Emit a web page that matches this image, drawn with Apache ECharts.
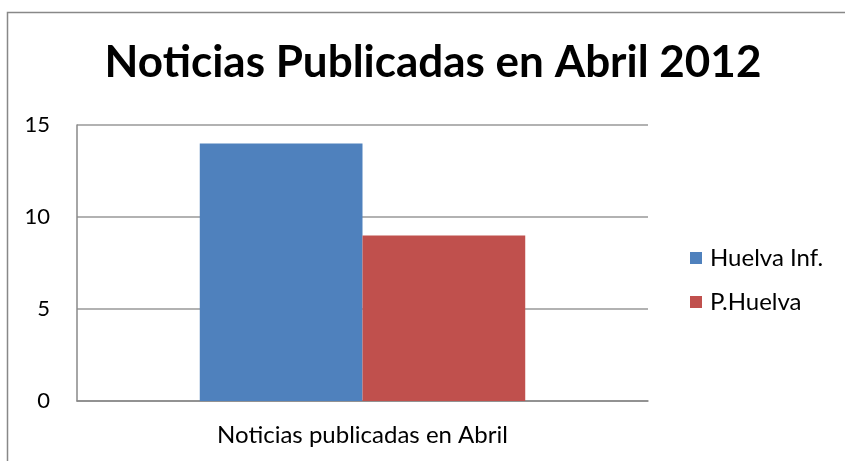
<!DOCTYPE html>
<html>
<head>
<meta charset="utf-8">
<script src="https://cdn.jsdelivr.net/npm/echarts@6/dist/echarts.min.js"></script>
<style>
  html, body { margin: 0; padding: 0; background: #fff; }
  #main { width: 845px; height: 461px; }
</style>
</head>
<body>
<div id="main"></div>
<script>
// data
var categories = ['Noticias publicadas en Abril'];
var seriesNames = ['Huelva Inf.', 'P.Huelva'];
var huelvaInf = [14];
var pHuelva = [9];
var yTicks = [0, 5, 10, 15];

var font = 'Lato, "Open Sans", sans-serif';
var myChart = echarts.init(document.getElementById('main'));

option = {
    backgroundColor: '#fff',
    animation: false,
    color: ['#4f81bd', '#c0504d'],
    title: {
        text: 'Noticias Publicadas en Abril 2012',
        left: 428,
        textAlign: 'center',
        top: 36,
        textStyle: { fontFamily: font, fontWeight: 'bold', fontSize: 44, color: '#000' }
    },
    graphic: [{
        type: 'rect',
        shape: { x: 7.5, y: 12.5, width: 900, height: 500 },
        style: { fill: 'none', stroke: '#888', lineWidth: 1.5 },
        silent: true
    }],
    legend: {
        orient: 'vertical',
        left: 685,
        top: 241,
        itemWidth: 12,
        itemHeight: 12,
        itemGap: 20,
        icon: 'rect',
        textStyle: { fontFamily: font, fontSize: 24, color: '#000', padding: [0, 0, 0, 3] },
        data: seriesNames
    },
    grid: { left: 77, right: 197, top: 125, bottom: 60 },
    xAxis: {
        type: 'category',
        data: categories,
        axisLine: { lineStyle: { color: '#888', width: 1.5 } },
        axisTick: { show: false },
        axisLabel: { fontFamily: font, fontSize: 24, color: '#000', margin: 22 }
    },
    yAxis: {
        type: 'value',
        min: yTicks[0],
        max: yTicks[yTicks.length - 1],
        interval: 5,
        axisLine: { show: true, lineStyle: { color: '#888', width: 1.5 } },
        axisTick: { show: false },
        splitLine: { lineStyle: { color: '#999', width: 1.5 } },
        axisLabel: { fontFamily: font, fontSize: 22, color: '#000', margin: 27 }
    },
    series: [
        { name: seriesNames[0], type: 'bar', data: huelvaInf, barGap: '0%', barCategoryGap: '43%' },
        { name: seriesNames[1], type: 'bar', data: pHuelva, barGap: '0%', barCategoryGap: '43%' }
    ]
};
myChart.setOption(option);
</script>
</body>
</html>
